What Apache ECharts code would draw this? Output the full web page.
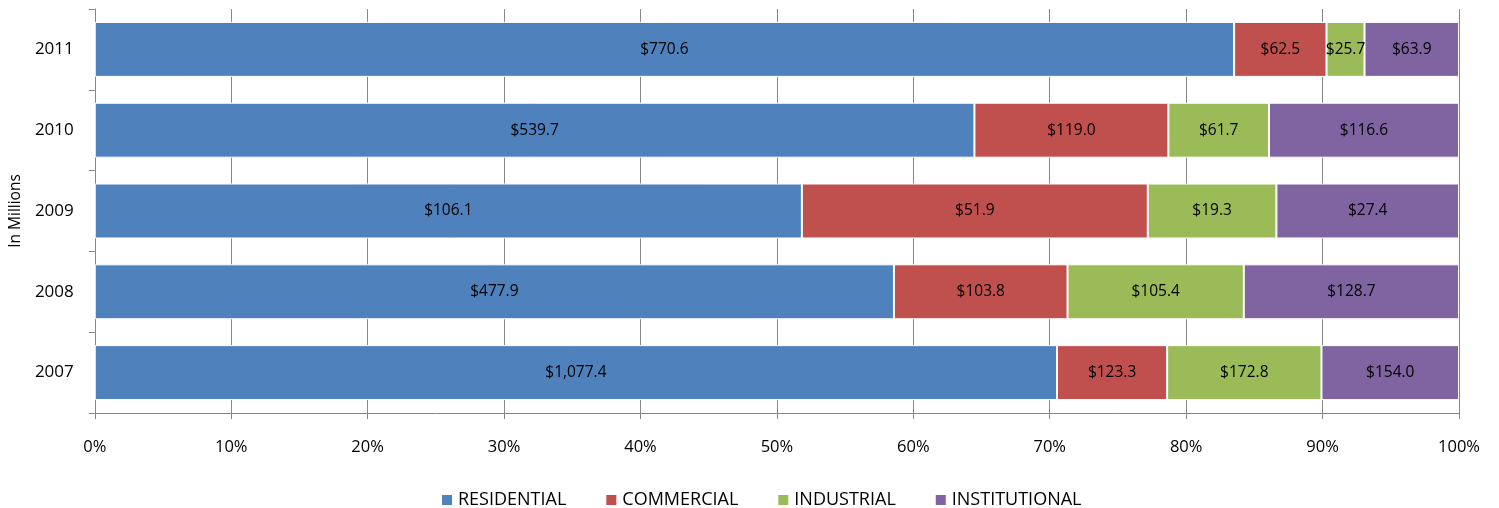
<!DOCTYPE html>
<html><head><meta charset="utf-8">
<script src="https://cdn.jsdelivr.net/npm/echarts@6/dist/echarts.min.js"></script>
<style>html,body{margin:0;padding:0;background:#fff}#c{width:1499px;height:508px}</style>
</head><body><div id="c"></div>
<script>
const years = ['2007','2008','2009','2010','2011'];
const residential = [1077.4, 477.9, 106.1, 539.7, 770.6];
const commercial = [123.3, 103.8, 51.9, 119.0, 62.5];
const industrial = [172.8, 105.4, 19.3, 61.7, 25.7];
const institutional = [154.0, 128.7, 27.4, 116.6, 63.9];
const xTicks = ['0%','10%','20%','30%','40%','50%','60%','70%','80%','90%','100%'];

const names = ['RESIDENTIAL','COMMERCIAL','INDUSTRIAL','INSTITUTIONAL'];
const colors = ['#4F81BD','#C0504D','#9BBB59','#8064A2'];
const raw = [residential, commercial, industrial, institutional];
const totals = years.map((_, i) => raw.reduce((s, a) => s + a[i], 0));
const font = "'Open Sans', 'Liberation Sans', sans-serif";

function fmt(v){ return '$' + v.toLocaleString('en-US',{minimumFractionDigits:1,maximumFractionDigits:1}); }

const series = raw.map((arr, k) => ({
  name: names[k], type: 'bar', stack: 'total',
  barCategoryGap: '32%',
  itemStyle: { color: colors[k], borderColor: '#fff', borderWidth: 1 },
  label: { show: true, position: 'inside', color: '#000', fontFamily: font, fontSize: 15.5,
    formatter: p => fmt(arr[p.dataIndex]) },
  data: arr.map((v, i) => v / totals[i] * 100)
}));

const chart = echarts.init(document.getElementById('c'));
chart.setOption({
  animation: false,
  grid: { left: 94, right: 40, top: 9, bottom: 95, containLabel: false },
  legend: { top: 486, left: 435, itemWidth: 12, itemHeight: 12, itemGap: 38, icon: 'rect',
    textStyle: { fontFamily: font, fontSize: 18, color: '#000' }, data: names },
  xAxis: { type: 'value', min: 0, max: 100, interval: 10,
    axisLine: { show: true, lineStyle: { color: '#878787' } },
    axisTick: { show: true, length: 6, lineStyle: { color: '#878787' } },
    splitLine: { show: true, lineStyle: { color: '#878787' } },
    axisLabel: { fontFamily: font, fontSize: 16.5, color: '#000', margin: 26,
      formatter: v => xTicks[Math.round(v / 10)] } },
  yAxis: { type: 'category', data: years,
    name: 'In Millions', nameLocation: 'middle', nameGap: 67, nameRotate: 90,
    nameTextStyle: { fontFamily: font, fontSize: 15.5, color: '#000' },
    axisLine: { show: true, lineStyle: { color: '#878787' } },
    axisTick: { show: true, length: 6, lineStyle: { color: '#878787' } },
    axisLabel: { fontFamily: font, fontSize: 17, color: '#000', margin: 21 } },
  series
});
</script></body></html>
